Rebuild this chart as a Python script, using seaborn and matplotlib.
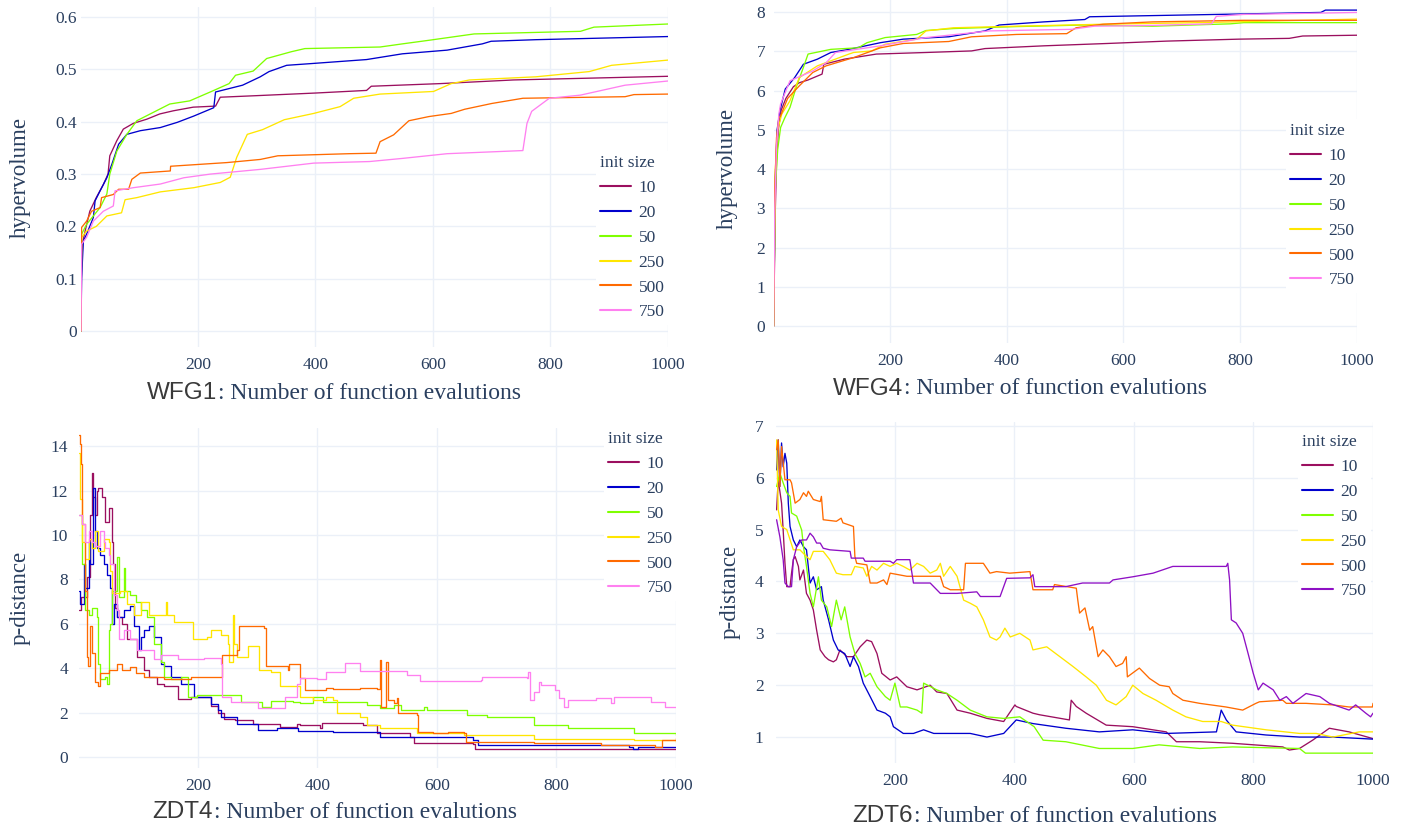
import numpy as np
import pandas as pd
import matplotlib
matplotlib.use("Agg")
import matplotlib.pyplot as plt
import seaborn as sns

INIT_SIZES = ["10", "20", "50", "250", "500", "750"]

# ---------------- WFG1 (hypervolume) ----------------
WFG1_X_10 = [1, 2, 4, 8, 16, 27, 39, 47, 50, 62, 73, 90, 113, 135, 158, 192, 230, 238, 300, 400, 487, 495, 612, 737, 1000]
WFG1_Y_10 = [0, 0.12, 0.17, 0.191, 0.229, 0.255, 0.28, 0.3, 0.335, 0.364, 0.386, 0.397, 0.405, 0.415, 0.421, 0.428, 0.43, 0.447, 0.45, 0.455, 0.46, 0.468, 0.473, 0.48, 0.487]
WFG1_X_20 = [1, 2, 5, 10.5, 22, 25, 33.5, 45, 53.6, 65, 79, 102, 136, 165, 193, 227, 230, 276, 306, 321, 351, 389, 487, 548, 624, 684, 699, 775, 1000]
WFG1_Y_20 = [0, 0.1, 0.172, 0.185, 0.217, 0.249, 0.268, 0.293, 0.319, 0.357, 0.376, 0.383, 0.389, 0.399, 0.411, 0.427, 0.457, 0.47, 0.486, 0.496, 0.508, 0.511, 0.519, 0.53, 0.537, 0.549, 0.554, 0.557, 0.563]
WFG1_X_50 = [1, 2, 10.5, 22, 33.5, 45, 50, 62, 79, 96, 124, 152, 186, 223, 253, 264, 294, 317, 359, 382, 510, 548, 594, 670, 851, 874, 1000]
WFG1_Y_50 = [0, 0.185, 0.204, 0.22, 0.236, 0.262, 0.3, 0.344, 0.376, 0.402, 0.418, 0.434, 0.44, 0.458, 0.473, 0.489, 0.497, 0.521, 0.534, 0.54, 0.543, 0.549, 0.556, 0.568, 0.573, 0.581, 0.587]
WFG1_X_250 = [1, 2, 10.5, 27, 45, 70, 76, 96, 136, 193, 238, 255, 266, 284, 310, 347, 397, 442, 465, 510, 601, 631, 662, 775, 866, 904, 1000]
WFG1_Y_250 = [0, 0.179, 0.191, 0.2, 0.22, 0.226, 0.251, 0.255, 0.266, 0.274, 0.284, 0.294, 0.332, 0.376, 0.385, 0.404, 0.416, 0.429, 0.445, 0.453, 0.458, 0.473, 0.48, 0.486, 0.496, 0.508, 0.518]
WFG1_X_500 = [1, 2, 10.5, 19, 33.5, 36, 56, 65, 82, 87.5, 102, 153, 153.5, 249, 306, 336, 457, 503, 510, 533, 559, 593, 631, 654, 700, 753, 927, 942, 1000]
WFG1_Y_500 = [0, 0.198, 0.21, 0.229, 0.236, 0.255, 0.261, 0.271, 0.271, 0.29, 0.302, 0.306, 0.315, 0.322, 0.328, 0.335, 0.339, 0.34, 0.362, 0.375, 0.402, 0.41, 0.416, 0.424, 0.435, 0.445, 0.448, 0.452, 0.453]
WFG1_X_750 = [1, 2, 10.5, 22, 39, 56, 59, 90, 136, 176, 221, 306, 397, 492, 548, 624, 753, 760, 768, 798, 851, 927, 1000]
WFG1_Y_750 = [0, 0.166, 0.179, 0.21, 0.229, 0.239, 0.268, 0.274, 0.281, 0.293, 0.3, 0.309, 0.321, 0.324, 0.33, 0.339, 0.345, 0.397, 0.42, 0.445, 0.451, 0.47, 0.478]

# ---------------- WFG4 (hypervolume) ----------------
WFG4_X_10 = [1, 4, 6, 9, 14, 22, 35, 45, 60, 84, 87, 122, 177, 262, 340, 363, 464, 573, 674, 798, 884, 907, 1000]
WFG4_Y_10 = [0, 3.0, 4.2, 5.0, 5.5, 5.8, 6.1, 6.2, 6.27, 6.42, 6.67, 6.8, 6.93, 6.97, 7.01, 7.07, 7.14, 7.2, 7.26, 7.31, 7.33, 7.39, 7.41]
WFG4_X_20 = [1, 4, 7, 12, 21, 37, 52, 76, 99, 130, 184, 223, 301, 363, 387, 464, 534, 542, 650, 798, 938, 946, 1000]
WFG4_Y_20 = [0, 3.8, 5.0, 5.5, 6.04, 6.33, 6.67, 6.8, 6.97, 7.05, 7.22, 7.31, 7.37, 7.52, 7.67, 7.75, 7.81, 7.88, 7.91, 7.95, 7.99, 8.05, 8.05]
WFG4_X_50 = [1, 4, 8, 13, 20, 29, 40, 52, 60, 99, 146, 161, 192, 246, 262, 309, 417, 534, 650, 783, 806, 1000]
WFG4_Y_50 = [0, 3.5, 4.5, 5.06, 5.3, 5.57, 6.1, 6.59, 6.93, 7.05, 7.09, 7.22, 7.35, 7.43, 7.53, 7.58, 7.63, 7.67, 7.64, 7.7, 7.73, 7.73]
WFG4_X_250 = [1, 4, 8, 15, 29, 45, 76, 130, 138, 169, 192, 246, 262, 309, 417, 565, 728, 1000]
WFG4_Y_250 = [0, 4.0, 5.0, 5.4, 5.74, 6.33, 6.63, 6.93, 6.97, 7.01, 7.18, 7.31, 7.52, 7.6, 7.64, 7.69, 7.73, 7.82]
WFG4_X_500 = [1, 3, 6, 10, 13, 25, 45, 68, 91, 138, 184, 223, 301, 340, 417, 503, 519, 565, 650, 806, 1000]
WFG4_Y_500 = [0, 3.5, 4.8, 5.3, 5.36, 5.8, 6.12, 6.46, 6.63, 6.84, 7.09, 7.2, 7.25, 7.37, 7.43, 7.45, 7.6, 7.69, 7.75, 7.79, 7.79]
WFG4_X_750 = [1, 3, 6, 10, 13, 29, 68, 91, 107, 184, 262, 371, 511, 550, 650, 751, 759, 806, 1000]
WFG4_Y_750 = [0, 3.0, 4.6, 5.4, 5.66, 6.25, 6.5, 6.71, 6.97, 7.14, 7.35, 7.52, 7.56, 7.64, 7.66, 7.7, 7.89, 7.94, 7.99]

# ---------------- ZDT4 (p-distance) ----------------
ZDT4_X_10 = [1, 5, 14, 19.7, 22.5, 25, 28, 30.8, 33.6, 39, 45, 50.6, 56, 58, 62, 65, 73, 82, 98, 110, 118, 132, 143, 166, 188, 222, 233, 244, 262, 292, 337, 366, 371, 404, 407, 438, 477, 500, 555, 561, 661, 664, 1000]
ZDT4_Y_10 = [6.6, 7.2, 8.1, 10.9, 12.8, 11.7, 10.9, 12.0, 12.1, 11.7, 10.6, 11.2, 9.7, 8.7, 6.7, 6.3, 6.0, 5.3, 4.5, 3.9, 3.6, 3.3, 3.2, 2.6, 2.7, 2.3, 2.0, 1.7, 1.65, 1.5, 1.35, 1.5, 1.44, 1.29, 1.52, 1.55, 1.44, 1.07, 0.91, 0.64, 0.59, 0.36, 0.35]
ZDT4_X_20 = [1, 3.3, 8.9, 11.7, 17.3, 20, 25, 28, 30.8, 36.4, 42, 47.6, 53, 56, 59, 64.9, 76, 87, 93, 101.6, 104.5, 110, 118, 127, 138, 143.5, 154.6, 171, 194, 222, 233, 239, 266, 300, 333, 367, 426, 505, 661, 669, 922, 928, 936, 1000]
ZDT4_Y_20 = [7.5, 6.9, 8.7, 7.6, 9.7, 8.7, 12.1, 10.2, 9.4, 9.1, 8.7, 8.2, 7.6, 6.0, 6.9, 6.3, 6.6, 6.8, 5.9, 4.8, 5.4, 5.7, 5.9, 5.4, 4.2, 4.1, 3.6, 3.3, 2.7, 2.4, 2.1, 1.8, 1.5, 1.2, 1.3, 1.15, 1.14, 0.91, 0.77, 0.54, 0.46, 0.35, 0.44, 0.44]
ZDT4_X_50 = [1, 5.4, 11, 17, 22.5, 31, 33.6, 36.4, 45, 47.6, 50.6, 53, 56, 65, 67.6, 76, 78.7, 87, 96, 104.5, 115.6, 127, 138, 143.5, 154.6, 171, 182.6, 199, 222, 255.6, 272, 292, 307, 322, 359, 371, 393, 410, 483, 505, 528, 539, 578, 584, 651, 684, 763, 819, 930, 1000]
ZDT4_Y_50 = [10.9, 8.7, 6.6, 6.4, 6.7, 6.3, 4.2, 3.5, 3.6, 3.3, 5.7, 6.0, 7.5, 9.0, 7.2, 8.5, 7.5, 7.3, 7.0, 6.6, 6.3, 5.1, 4.3, 3.6, 3.5, 3.6, 2.7, 2.8, 2.8, 2.8, 2.5, 2.47, 2.25, 2.54, 2.47, 2.42, 2.72, 2.49, 2.34, 2.19, 2.34, 2.12, 2.27, 2.12, 1.89, 1.82, 1.44, 1.29, 1.09, 0.99]
ZDT4_X_250 = [1, 3.3, 5.4, 11, 17, 22.5, 28, 33.6, 42, 50.6, 53, 56, 70, 81.6, 93, 104.5, 118, 118.5, 143.5, 146, 149, 160, 188, 191, 216, 222, 238.5, 249.6, 252, 258, 261, 266, 283, 302, 322, 337, 371, 393, 415, 426, 432, 472, 483, 505, 567, 645, 651, 763, 930, 1000]
ZDT4_Y_250 = [13.7, 11.6, 9.7, 8.9, 9.8, 9.4, 10.2, 9.3, 9.8, 9.7, 8.4, 7.4, 7.5, 6.9, 6.4, 7.0, 7.0, 6.4, 6.4, 7.0, 6.4, 6.1, 6.1, 5.3, 5.4, 5.7, 5.5, 5.1, 4.3, 6.4, 5.1, 4.5, 5.0, 3.9, 3.82, 3.22, 2.72, 2.57, 2.72, 2.57, 1.97, 1.82, 1.44, 1.29, 1.07, 0.99, 0.99, 0.8, 0.77, 0.69]
ZDT4_X_500 = [1, 2.6, 3.8, 5.4, 11, 14, 16.6, 18.6, 22.5, 28, 33.6, 36.4, 45, 50.6, 59, 64.9, 73, 87, 96, 110, 143.5, 188, 238.5, 241, 266, 269, 311, 314, 350, 353, 371, 379, 415, 426, 472, 500, 504, 507, 514, 518, 528, 533, 534, 566, 569, 594, 619, 645, 648, 763, 875, 965, 976, 1000]
ZDT4_Y_500 = [14.5, 14.1, 13.2, 10.5, 7.5, 4.5, 4.1, 5.9, 4.7, 3.4, 3.2, 3.8, 3.8, 3.9, 3.9, 4.2, 3.9, 4.05, 3.8, 3.6, 3.5, 3.6, 3.6, 4.6, 4.8, 5.9, 5.8, 4.1, 3.9, 4.2, 3.54, 3.02, 3.09, 3.05, 3.09, 3.05, 4.37, 2.27, 4.29, 2.57, 2.42, 2.64, 1.97, 1.89, 1.14, 1.07, 1.14, 1.07, 0.69, 0.62, 0.54, 0.46, 0.77, 0.85]
ZDT4_X_750 = [1, 5.4, 11, 17, 22.5, 28, 36.4, 42, 45, 50.6, 53, 59, 64.9, 67.6, 76, 87, 98, 127, 138, 166, 210, 238.5, 241, 255.6, 300, 322, 345, 366, 371, 400, 415, 446, 472, 550, 572, 673, 676, 751, 753, 755, 763, 771, 774, 797, 805, 813, 819, 863, 866, 891, 897, 958, 981, 1000]
ZDT4_Y_750 = [10.9, 10.5, 9.7, 10.2, 9.7, 9.5, 10.2, 9.7, 9.4, 9.1, 8.7, 7.3, 6.6, 5.3, 5.7, 5.3, 4.8, 4.4, 4.6, 4.4, 4.45, 4.2, 2.7, 2.5, 2.2, 2.2, 2.7, 3.3, 3.54, 3.5, 3.84, 4.22, 3.87, 3.69, 3.42, 3.47, 3.62, 3.54, 3.84, 2.57, 2.94, 3.39, 3.24, 3.02, 2.64, 2.27, 2.57, 2.57, 2.64, 2.42, 2.72, 2.49, 2.27, 2.24]

# ---------------- ZDT6 (p-distance) ----------------
ZDT6_X_10 = [2, 4.7, 10.3, 13, 16, 19, 24.5, 27, 30, 33, 38.5, 41, 47, 52, 58, 63.5, 69, 75, 83, 89, 97, 102, 108, 119.6, 130.6, 141.8, 153, 161, 170, 178, 192, 203, 220, 237, 259, 270, 287, 304, 326, 354, 382, 400.8, 403, 431, 442, 492, 495, 503.5, 520, 553.6, 598, 654, 671, 710, 765, 849, 860, 877, 899, 927, 960, 1000]
ZDT6_Y_10 = [5.38, 5.96, 5.51, 4.99, 4.35, 3.9, 3.9, 4.16, 4.42, 4.48, 4.29, 4.03, 4.22, 3.77, 3.64, 3.45, 3.06, 2.68, 2.55, 2.49, 2.45, 2.49, 2.68, 2.55, 2.55, 2.74, 2.87, 2.84, 2.61, 2.23, 2.1, 2.16, 1.97, 1.91, 2.0, 1.87, 1.84, 1.52, 1.46, 1.36, 1.3, 1.62, 1.59, 1.46, 1.43, 1.33, 1.71, 1.59, 1.46, 1.23, 1.2, 1.1, 0.91, 0.91, 0.88, 0.81, 0.75, 0.78, 0.94, 1.17, 1.1, 0.97]
ZDT6_X_20 = [2, 4.7, 7.5, 10.3, 13, 16, 19, 21.6, 24.5, 30, 35.6, 41, 47, 52, 55, 58, 63.5, 69, 77, 80, 89, 97, 105, 116, 125, 130.6, 139, 147, 158.6, 170, 184, 192, 197.5, 214, 231, 248, 265, 326, 354, 382, 403, 431, 486, 542, 598, 654, 738, 746, 754.5, 771, 821, 877, 933, 1000]
ZDT6_Y_20 = [6.15, 6.73, 5.83, 6.67, 6.21, 6.47, 6.28, 5.51, 5.06, 4.8, 4.67, 4.8, 4.67, 4.61, 4.29, 3.97, 4.09, 3.84, 3.9, 3.64, 3.26, 2.87, 2.68, 2.61, 2.36, 2.55, 2.36, 2.04, 1.78, 1.52, 1.46, 1.39, 1.2, 1.07, 1.07, 1.14, 1.07, 1.07, 1.0, 1.07, 1.33, 1.26, 1.17, 1.1, 1.14, 1.07, 1.1, 1.52, 1.33, 1.1, 1.04, 1.0, 1.0, 0.96]
ZDT6_X_50 = [2, 7.5, 13, 19, 24.5, 27, 35.6, 44, 47, 52, 58, 63.5, 72, 77, 86, 94, 102, 110, 116, 125, 133, 141.8, 150, 158.6, 170, 184, 192, 200, 209, 220, 237, 245, 248, 270, 287, 304, 326, 354, 382, 409, 433, 448, 486, 542, 598, 642, 710, 765, 877, 887, 1000]
ZDT6_Y_50 = [5.83, 6.09, 5.9, 5.71, 5.64, 5.32, 5.26, 4.99, 4.67, 4.29, 3.77, 3.51, 4.09, 3.64, 3.51, 3.13, 3.64, 3.26, 3.51, 2.93, 2.61, 2.42, 2.16, 2.23, 1.97, 1.78, 1.71, 2.04, 1.58, 1.58, 1.52, 1.46, 2.04, 1.91, 1.84, 1.71, 1.52, 1.39, 1.36, 1.39, 1.2, 0.94, 0.91, 0.78, 0.78, 0.85, 0.78, 0.81, 0.78, 0.69, 0.69]
ZDT6_X_250 = [2, 4.7, 10.3, 19, 30, 41, 52, 58, 63.5, 80, 91, 102, 113, 127, 133, 147, 153, 161, 170, 181, 192, 203, 214, 225, 237, 248, 259, 270, 276, 281.5, 292.6, 304, 315, 326, 337, 348, 359, 370, 376, 384, 393, 409, 426, 431, 454, 476, 498, 520, 537, 554, 570, 587, 598, 615, 637, 665, 687, 715, 746, 765, 821, 877, 905, 933, 977, 1000]
ZDT6_Y_250 = [6.73, 5.38, 5.06, 5.0, 4.61, 4.61, 4.48, 4.42, 4.58, 4.58, 4.42, 4.16, 4.13, 4.13, 4.29, 4.26, 4.1, 4.29, 4.22, 4.35, 4.29, 4.35, 4.29, 4.22, 4.35, 4.29, 4.16, 4.22, 4.35, 4.1, 4.29, 4.1, 3.64, 3.58, 3.51, 3.26, 2.93, 2.87, 2.93, 3.1, 2.93, 3.0, 2.87, 2.68, 2.74, 2.55, 2.36, 2.16, 2.0, 1.71, 1.62, 1.78, 2.0, 1.84, 1.71, 1.52, 1.39, 1.3, 1.3, 1.23, 1.14, 1.07, 1.07, 1.0, 1.1, 1.1]
ZDT6_X_500 = [2, 4.7, 7.5, 10.3, 16, 24.5, 27, 33, 41, 47, 52, 55, 63.5, 75, 77, 80, 102, 110, 113, 130.6, 133, 136, 153, 158.6, 170, 181, 186.6, 192, 220, 276, 281.5, 292.6, 315, 318, 348, 359, 370, 392, 426, 431, 464, 467, 503.5, 506, 509, 518, 526, 531, 540, 548, 559, 570, 581, 587, 589, 609, 626, 643, 659, 665, 682, 710, 754, 782, 804, 810, 849, 855, 888, 933, 960, 999, 1000]
ZDT6_Y_500 = [6.54, 6.73, 5.83, 6.6, 5.96, 5.96, 5.9, 5.51, 5.58, 5.71, 5.64, 5.74, 5.58, 5.54, 5.64, 5.19, 5.16, 5.22, 5.13, 5.06, 4.48, 4.35, 4.32, 3.97, 3.97, 4.03, 3.94, 4.16, 4.1, 4.1, 3.9, 3.84, 3.84, 4.35, 4.35, 4.16, 4.19, 4.16, 4.19, 3.84, 3.84, 3.94, 3.87, 3.64, 3.39, 3.49, 3.06, 3.13, 2.55, 2.68, 2.55, 2.36, 2.42, 2.55, 2.16, 2.33, 2.13, 2.0, 1.97, 1.84, 1.71, 1.65, 1.58, 1.52, 1.65, 1.68, 1.71, 1.65, 1.65, 1.62, 1.58, 1.58, 1.65]
ZDT6_X_750 = [2, 7.5, 13, 16, 21.6, 27, 30, 35.6, 44, 52, 58, 63.5, 69, 75, 80, 91, 125, 127, 147, 150, 192, 197.5, 203, 225, 231, 259, 276, 304, 337, 343, 376, 387, 426, 431, 434, 486, 514, 559, 565, 598, 632, 665, 754.5, 757, 760, 763, 771, 782, 791, 799.6, 808, 816, 833, 844, 855, 866, 888, 911, 927, 960, 971, 988, 996, 1000]
ZDT6_Y_750 = [5.19, 4.86, 4.42, 3.97, 3.9, 3.9, 4.42, 4.67, 4.8, 4.8, 4.93, 4.86, 4.74, 4.74, 4.64, 4.61, 4.58, 4.45, 4.45, 4.39, 4.39, 4.35, 4.42, 4.42, 3.97, 3.97, 3.77, 3.77, 3.8, 3.71, 3.71, 4.06, 4.07, 4.13, 3.9, 3.9, 3.97, 3.97, 4.03, 4.09, 4.16, 4.29, 4.29, 4.35, 4.03, 3.26, 3.2, 3.0, 2.61, 2.23, 1.91, 2.04, 1.91, 1.71, 1.78, 1.65, 1.84, 1.78, 1.65, 1.52, 1.62, 1.46, 1.39, 1.46]

PALETTE_A = {"10": "#9b0f5f", "20": "#0000cd", "50": "#7fff00", "250": "#ffe600", "500": "#ff6a00", "750": "#ff80f0"}
PALETTE_B = dict(PALETTE_A, **{"750": "#8e10c4"})

SLATE = "#2a3f5f"
GRID = "#ebf0f8"
W, H = 1410, 831

sns.set_theme(style="white")
plt.rcParams["font.family"] = ["Liberation Serif", "DejaVu Serif"]

fig = plt.figure(figsize=(W / 100, H / 100), dpi=100)
fig.patch.set_facecolor("white")


def frame(series):
    rows = []
    for size, (xs, ys) in series.items():
        for x, y in zip(xs, ys):
            rows.append({"evals": x, "value": y, "init size": size})
    return pd.DataFrame(rows)


def panel(px_left, px_right, px_top, px_bottom, ylim, yticks, ylabels, series, palette,
          problem, ylabel, xlab_y, split_x, ylab_x, leg_xy, ypad, drawstyle):
    ax = fig.add_axes([px_left / W, 1 - px_bottom / H, (px_right - px_left) / W, (px_bottom - px_top) / H])
    df = frame(series)
    sns.lineplot(data=df, x="evals", y="value", hue="init size", hue_order=INIT_SIZES,
                 palette=palette, estimator=None, sort=False, ax=ax, linewidth=0.95,
                 legend="full", drawstyle=drawstyle)
    ax.set_xlim(1, 1000)
    ax.set_ylim(*ylim)
    ax.set_xticks([200, 400, 600, 800, 1000])
    ax.set_yticks(yticks)
    ax.set_yticklabels(ylabels)
    ax.grid(True, color=GRID, linewidth=1.0)
    ax.set_axisbelow(True)
    for s in ax.spines.values():
        s.set_visible(False)
    ax.tick_params(axis="both", length=0, labelsize=12.5, labelcolor=SLATE)
    ax.tick_params(axis="x", pad=7)
    ax.tick_params(axis="y", pad=ypad)
    ax.set_xlabel("")
    ax.set_ylabel("")
    handles, labels = ax.get_legend_handles_labels()
    leg = ax.legend(handles, labels, title="init size", loc="upper left",
                    bbox_to_anchor=(leg_xy[0] / W, 1 - leg_xy[1] / H), bbox_transform=fig.transFigure,
                    borderaxespad=0, borderpad=0.25, frameon=True, facecolor="white", edgecolor="none",
                    framealpha=1, fancybox=False, fontsize=12.5, title_fontsize=12.5,
                    handlelength=1.75, handletextpad=0.45, labelspacing=0.5, alignment="left")
    for t in leg.get_texts():
        t.set_color(SLATE)
    leg.get_title().set_color(SLATE)
    for ln in leg.get_lines():
        ln.set_linewidth(1.5)
        ln.set_drawstyle("default")
    # x-axis title: problem name in sans, rest in serif
    fig.text(split_x / W, 1 - xlab_y / H, problem, ha="right", va="center", fontsize=17.5,
             family=["Liberation Sans", "DejaVu Sans"], color="#3a3a3a")
    fig.text((split_x + 1) / W, 1 - xlab_y / H, ": Number of function evalutions", ha="left", va="center",
             fontsize=17, color=SLATE)
    fig.text(ylab_x / W, 1 - ((px_top + px_bottom) / 2) / H, ylabel, rotation=90, ha="center", va="center",
             fontsize=16.5, color=SLATE)
    return ax


panel(81, 668, 7, 347, (-0.0306, 0.6195), [0, 0.1, 0.2, 0.3, 0.4, 0.5, 0.6],
      ["0", "0.1", "0.2", "0.3", "0.4", "0.5", "0.6"],
      {"10": (WFG1_X_10, WFG1_Y_10), "20": (WFG1_X_20, WFG1_Y_20), "50": (WFG1_X_50, WFG1_Y_50),
       "250": (WFG1_X_250, WFG1_Y_250), "500": (WFG1_X_500, WFG1_Y_500), "750": (WFG1_X_750, WFG1_Y_750)},
      PALETTE_A, "WFG1", "hypervolume", 393, 217, 20, (596, 151), 3, "default")

panel(773.6, 1357, -6, 343, (-0.43, 8.46), list(range(0, 9)), [str(v) for v in range(0, 9)],
      {"10": (WFG4_X_10, WFG4_Y_10), "20": (WFG4_X_20, WFG4_Y_20), "50": (WFG4_X_50, WFG4_Y_50),
       "250": (WFG4_X_250, WFG4_Y_250), "500": (WFG4_X_500, WFG4_Y_500), "750": (WFG4_X_750, WFG4_Y_750)},
      PALETTE_A, "WFG4", "hypervolume", 389, 903, 727, (1286, 119), 6, "default")

panel(79, 676, 428, 768, (-0.495, 14.82), list(range(0, 15, 2)), [str(v) for v in range(0, 15, 2)],
      {"10": (ZDT4_X_10, ZDT4_Y_10), "20": (ZDT4_X_20, ZDT4_Y_20), "50": (ZDT4_X_50, ZDT4_Y_50),
       "250": (ZDT4_X_250, ZDT4_Y_250), "500": (ZDT4_X_500, ZDT4_Y_500), "750": (ZDT4_X_750, ZDT4_Y_750)},
      PALETTE_A, "ZDT4", "p-distance", 812, 213, 20, (604, 427), 8, "steps-post")

panel(776, 1373, 421.7, 763, (0.5, 7.08), list(range(1, 8)), [str(v) for v in range(1, 8)],
      {"10": (ZDT6_X_10, ZDT6_Y_10), "20": (ZDT6_X_20, ZDT6_Y_20), "50": (ZDT6_X_50, ZDT6_Y_50),
       "250": (ZDT6_X_250, ZDT6_Y_250), "500": (ZDT6_X_500, ZDT6_Y_500), "750": (ZDT6_X_750, ZDT6_Y_750)},
      PALETTE_B, "ZDT6", "p-distance", 816, 913, 730, (1298, 430), 9, "default")

fig.savefig("out.png", dpi=100, facecolor="white")
